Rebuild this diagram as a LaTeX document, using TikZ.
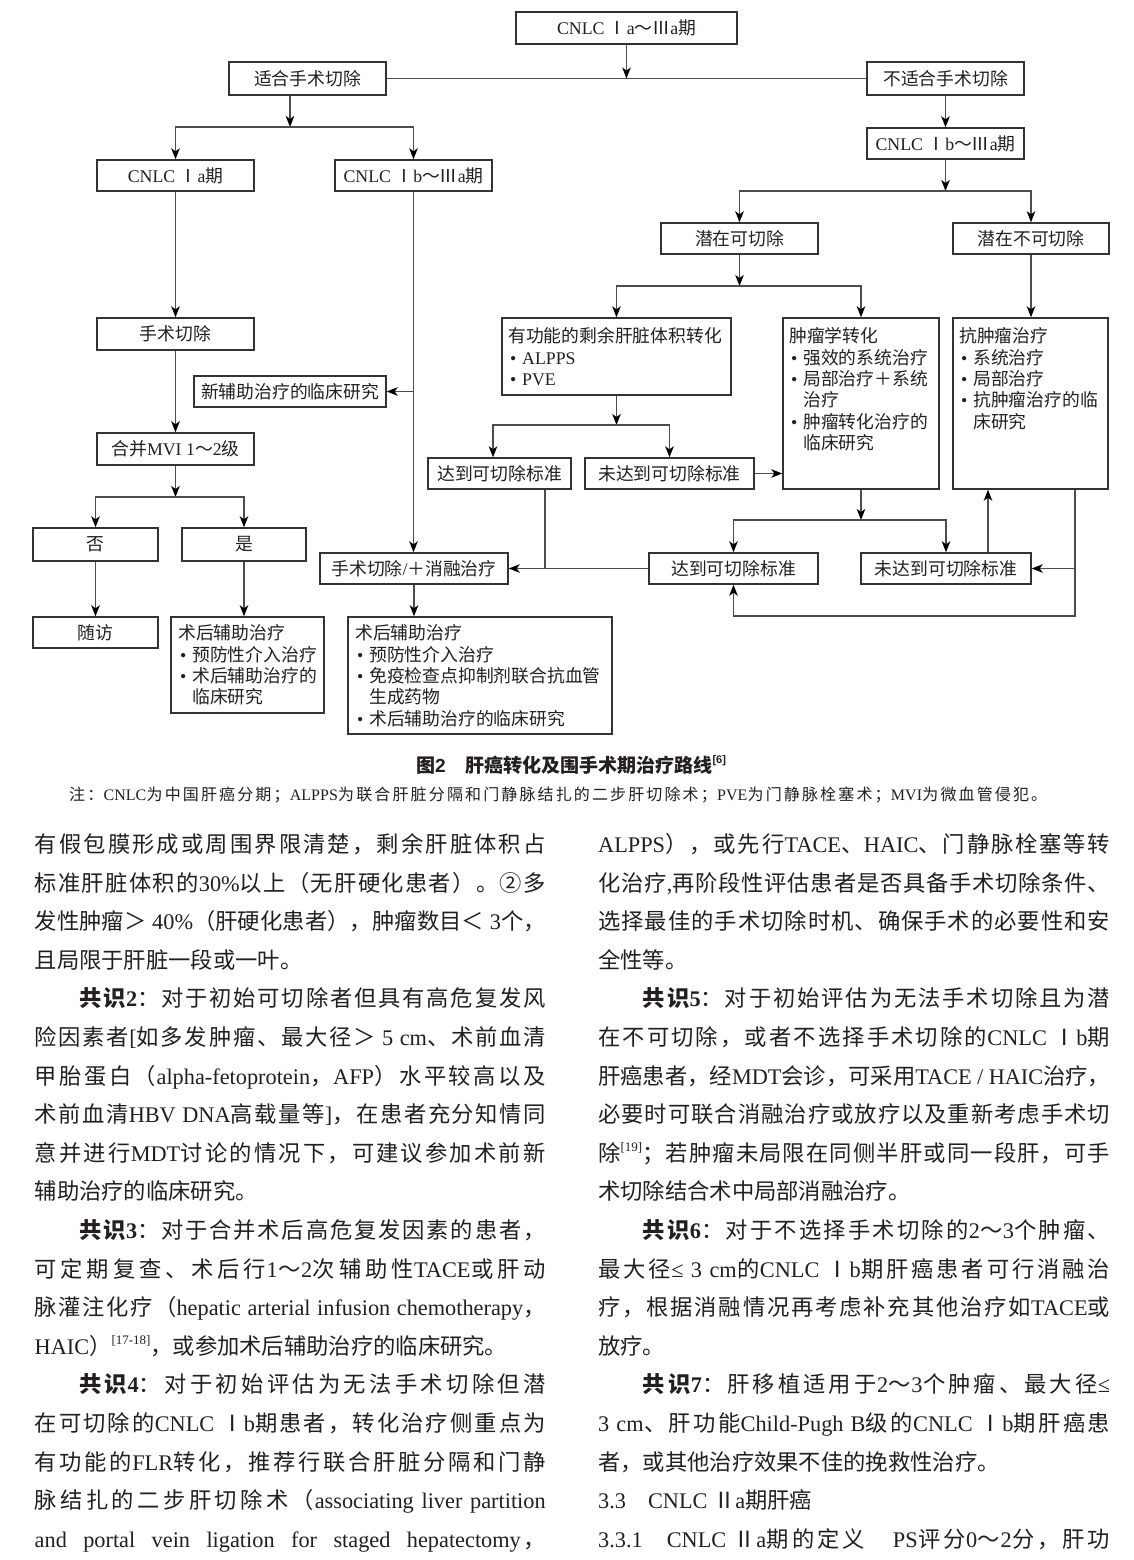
\documentclass[tikz,border=0pt]{standalone}
\usepackage{fontspec}
\setmainfont{Liberation Serif}
\setsansfont{Liberation Sans}
\newfontfamily\cjkfont{Noto Sans CJK SC}
\usetikzlibrary{arrows.meta}

% --- automatic switching between Latin and CJK fonts ---
\newcount\cjkn
\chardef\cjkcls=10
\def\cjkrange#1#2{\cjkn=#1\relax
  \loop\XeTeXcharclass\cjkn=\cjkcls\relax
  \ifnum\cjkn<#2\relax\advance\cjkn by 1\relax\repeat}
\cjkrange{"2160}{"217F}
\cjkrange{"2460}{"24FF}
\cjkrange{"2E80}{"9FFF}
\cjkrange{"FF00}{"FFEF}
\def\latfam{\rmdefault}
\def\latfont{\fontfamily{\latfam}\selectfont}
\def\cjkglue{\hskip 0pt plus 0.2em\relax}
\def\trglue{\hskip 0pt plus 0.03em\relax}
\XeTeXinterchartoks 0 \cjkcls = {\trglue\cjkfont}
\XeTeXinterchartoks 4095 \cjkcls = {\cjkfont}
\XeTeXinterchartoks \cjkcls 0 = {\latfont\trglue}
\XeTeXinterchartoks \cjkcls 4095 = {\latfont}
\XeTeXinterchartoks \cjkcls \cjkcls = {\cjkglue}
\XeTeXinterchartokenstate=1

\definecolor{boxc}{HTML}{333333}
\definecolor{linec}{HTML}{4D4D4D}
\definecolor{txt}{HTML}{231F20}

\newcommand\dfont{\fontsize{17.8}{21.3}\selectfont}
\newcommand\bfont{\fontsize{22.3}{38.6}\selectfont}
\newcommand\nfont{\fontsize{16}{20}\selectfont}
\newcommand\lns[1]{\vtop{\baselineskip=21.3pt\lineskiplimit=-20pt\lineskip=0pt #1}}
\newcommand\bul{\makebox[14pt][l]{\hspace{2pt}•}}
\newcommand\hang{\hspace*{14pt}}
\newdimen\colw
\newcommand\jl[1]{\hbox to\colw{#1}}
\newcommand\nl[1]{\hbox{#1}}
\newcommand\ind{\hspace*{44.6pt}}
\newcommand\supref[2][13]{\raisebox{0.45em}{\fontsize{#1}{#1}\selectfont #2}}
\newcommand\bodycol[1]{\vtop{\baselineskip=38.6pt\lineskiplimit=-30pt\lineskip=0pt #1}}

\begin{document}
\begin{tikzpicture}[x=1pt,y=-1pt,
  sz/.style 2 args={minimum width=#1pt,minimum height=#2pt},
  box/.style={draw=boxc,line width=1.4pt,inner sep=0pt,font=\dfont,text=txt},
  ln/.style={draw=linec,line width=1.5pt},
  arr/.style={ln,-{Stealth[length=11pt,width=8.5pt,inset=3pt,color=black]}},
  tl/.style={anchor=base west,inner sep=0pt,font=\dfont,text=txt},
  body/.style={anchor=base west,inner sep=0pt,font=\bfont,text=txt}]
\fill[white] (0,0) rectangle (1134,1560);
\path[use as bounding box] (0,0) rectangle (1134,1560);

% ---------------- boxes ----------------
\node[box,sz={221}{32}] (top) at (626.5,28) {CNLC Ⅰa～Ⅲa期};
\node[box,sz={157}{33}] (fit) at (307.5,78.5) {适合手术切除};
\node[box,sz={157}{33}] (nfit) at (945.5,78.5) {不适合手术切除};
\node[box,sz={157}{31}] (Ia) at (175.5,175.5) {CNLC Ⅰa期};
\node[box,sz={157}{31}] (Ib) at (413.5,175.5) {CNLC Ⅰb～Ⅲa期};
\node[box,sz={157}{31}] (Ib2) at (945.5,143.5) {CNLC Ⅰb～Ⅲa期};
\node[box,sz={157}{31}] (pr) at (739.5,238.5) {潜在可切除};
\node[box,sz={156}{31}] (pnr) at (1031,238.5) {潜在不可切除};
\node[box,sz={157}{32}] (surg1) at (175.5,334) {手术切除};
\node[box,sz={192}{31}] (neo) at (290,391.5) {新辅助治疗的临床研究};
\node[box,sz={157}{32}] (mvi) at (175.5,449) {合并MVI 1～2级};
\node[box,sz={125}{33}] (no) at (95.5,544.5) {否};
\node[box,sz={124}{33}] (yes) at (244,544.5) {是};
\node[box,sz={125}{31}] (fu) at (95.5,632.5) {随访};
\node[box,sz={153}{96}] (adj1) at (247.5,665) {};
\node[box,sz={229}{77}] (flr) at (616.5,356.5) {};
\node[box,sz={156}{171}] (onc) at (861,403.5) {};
\node[box,sz={155}{171}] (anti) at (1030.5,403.5) {};
\node[box,sz={143}{31}] (reach1) at (499.5,473.5) {达到可切除标准};
\node[box,sz={169}{31}] (notreach1) at (669.5,473.5) {未达到可切除标准};
\node[box,sz={188}{31}] (surg2) at (414,568.5) {手术切除/＋消融治疗};
\node[box,sz={169}{31}] (reach2) at (733.5,568.5) {达到可切除标准};
\node[box,sz={170}{31}] (notreach2) at (946,568.5) {未达到可切除标准};
\node[box,sz={264}{117}] (adj2) at (480,675.5) {};

% ---------------- multi-line box texts ----------------
\node[tl] (flrt) at (508,342.8) {\lns{\hbox{有功能的剩余肝脏体积转化}\hbox{\bul ALPPS}\hbox{\bul PVE}}};
\node[tl] (onct) at (789,342.8) {\lns{\hbox{肿瘤学转化}\hbox{\bul 强效的系统治疗}\hbox{\bul 局部治疗＋系统}\hbox{\hang 治疗}\hbox{\bul 肿瘤转化治疗的}\hbox{\hang 临床研究}}};
\node[tl] (antit) at (959,342.8) {\lns{\hbox{抗肿瘤治疗}\hbox{\bul 系统治疗}\hbox{\bul 局部治疗}\hbox{\bul 抗肿瘤治疗的临}\hbox{\hang 床研究}}};
\node[tl] (adj1t) at (178,639.8) {\lns{\hbox{术后辅助治疗}\hbox{\bul 预防性介入治疗}\hbox{\bul 术后辅助治疗的}\hbox{\hang 临床研究}}};
\node[tl] (adj2t) at (355,639.8) {\lns{\hbox{术后辅助治疗}\hbox{\bul 预防性介入治疗}\hbox{\bul 免疫检查点抑制剂联合抗血管}\hbox{\hang 生成药物}\hbox{\bul 术后辅助治疗的临床研究}}};

% ---------------- connectors ----------------
\draw[ln] (fit.east) -- (nfit.west);
\draw[arr] (top.south) -- (top.south |- fit.east);
\coordinate (j1) at (290,127);
\draw[arr] (j1 |- fit.south) -- (j1);
\draw[arr] (j1) -| (Ia.north);
\draw[arr] (j1) -| (Ib.north);
\draw[arr] (nfit.south) -- (Ib2.north);
\coordinate (j2) at (945.5,191);
\draw[arr] (Ib2.south) -- (j2);
\draw[arr] (j2) -| (pr.north);
\draw[arr] (j2) -| (pnr.north);
\draw[arr] (Ia.south) -- (surg1.north);
\draw[arr] (surg1.south) -- (mvi.north);
\coordinate (j3) at (175.5,497);
\draw[arr] (mvi.south) -- (j3);
\draw[arr] (j3) -| (no.north);
\draw[arr] (j3) -| (yes.north);
\draw[arr] (no.south) -- (fu.north);
\draw[arr] (yes.south) -- (yes.south |- adj1.north);
\draw[arr] (Ib.south) -- (Ib.south |- surg2.north);
\draw[arr] (Ib.south |- neo.east) -- (neo.east);
\draw[arr] (surg2.south) -- (surg2.south |- adj2.north);
\coordinate (j4) at (739.5,286);
\draw[arr] (pr.south) -- (j4);
\draw[arr] (j4) -| (flr.north);
\draw[arr] (j4) -| (onc.north);
\draw[arr] (pnr.south) -- (pnr.south |- anti.north);
\coordinate (j5) at (616.5,425);
\draw[arr] (flr.south) -- (j5);
\coordinate (r1x) at (493,425);
\draw[arr] (j5) -- (r1x) -- (r1x |- reach1.north);
\draw[arr] (j5) -| (notreach1.north);
\draw[arr] (notreach1.east) -- (notreach1.east -| onc.west);
\coordinate (r1d) at (545,568.5);
\draw[arr] (r1d |- reach1.south) -- (r1d) -- (surg2.east);
\draw[ln] (reach2.west) -- (r1d);
\coordinate (j6) at (861,520);
\draw[arr] (onc.south) -- (j6);
\draw[arr] (j6) -| (reach2.north);
\draw[arr] (j6) -| (notreach2.north);
\coordinate (ux) at (988,520);
\draw[arr] (ux |- notreach2.north) -- (ux |- anti.south);
\coordinate (rx) at (1075,616);
\draw[arr] (rx |- anti.south) -- (rx) -| (reach2.south);
\draw[arr] (rx |- notreach2.east) -- (notreach2.east);

% ---------------- caption and note ----------------
\node[anchor=base,inner sep=0pt,text=txt,font=\fontsize{19}{22}\selectfont] (cap) at (571,772)
  {\sffamily\bfseries\def\latfam{\sfdefault}图2\hspace{20pt}肝癌转化及围手术期治疗路线\supref[11]{[6]}};
\node[anchor=base west,inner sep=0pt,text=txt,font=\nfont] (note) at (69,800)
  {\hbox to 978pt{注：CNLC为中国肝癌分期；ALPPS为联合肝脏分隔和门静脉结扎的二步肝切除术；PVE为门静脉栓塞术；MVI为微血管侵犯。}};

% ---------------- body text ----------------
\node[body] (lcol) at (34.5,852.5) {\colw=511pt\bodycol{%
\jl{有假包膜形成或周围界限清楚，剩余肝脏体积占}
\jl{标准肝脏体积的30\%以上（无肝硬化患者）。②多}
\jl{发性肿瘤＞ 40\%（肝硬化患者），肿瘤数目＜ 3个，}
\nl{且局限于肝脏一段或一叶。}
\jl{\ind{\bfseries 共识2}：对于初始可切除者但具有高危复发风}
\jl{险因素者[如多发肿瘤、最大径＞ 5 cm、术前血清}
\jl{甲胎蛋白（alpha-fetoprotein，AFP）水平较高以及}
\jl{术前血清HBV DNA高载量等]，在患者充分知情同}
\jl{意并进行MDT讨论的情况下，可建议参加术前新}
\nl{辅助治疗的临床研究。}
\jl{\ind{\bfseries 共识3}：对于合并术后高危复发因素的患者，}
\jl{可定期复查、术后行1～2次辅助性TACE或肝动}
\jl{脉灌注化疗（hepatic arterial infusion chemotherapy，}
\nl{HAIC）\supref{[17-18]}，或参加术后辅助治疗的临床研究。}
\jl{\ind{\bfseries 共识4}：对于初始评估为无法手术切除但潜}
\jl{在可切除的CNLC Ⅰb期患者，转化治疗侧重点为}
\jl{有功能的FLR转化，推荐行联合肝脏分隔和门静}
\jl{脉结扎的二步肝切除术（associating liver partition}
\jl{and portal vein ligation for staged hepatectomy，}}};

\node[body] (rcol) at (598,852.5) {\colw=512pt\bodycol{%
\jl{ALPPS），或先行TACE、HAIC、门静脉栓塞等转}
\jl{化治疗,再阶段性评估患者是否具备手术切除条件、}
\jl{选择最佳的手术切除时机、确保手术的必要性和安}
\nl{全性等。}
\jl{\ind{\bfseries 共识5}：对于初始评估为无法手术切除且为潜}
\jl{在不可切除，或者不选择手术切除的CNLC Ⅰb期}
\jl{肝癌患者，经MDT会诊，可采用TACE / HAIC治疗，}
\jl{必要时可联合消融治疗或放疗以及重新考虑手术切}
\jl{除\supref{[19]}；若肿瘤未局限在同侧半肝或同一段肝，可手}
\nl{术切除结合术中局部消融治疗。}
\jl{\ind{\bfseries 共识6}：对于不选择手术切除的2～3个肿瘤、}
\jl{最大径≤ 3 cm的CNLC Ⅰb期肝癌患者可行消融治}
\jl{疗，根据消融情况再考虑补充其他治疗如TACE或}
\nl{放疗。}
\jl{\ind{\bfseries 共识7}：肝移植适用于2～3个肿瘤、最大径≤}
\jl{3 cm、肝功能Child-Pugh B级的CNLC Ⅰb期肝癌患}
\nl{者，或其他治疗效果不佳的挽救性治疗。}
\nl{3.3\hspace{22pt}CNLC Ⅱa期肝癌}
\jl{3.3.1\hspace{24pt}CNLC Ⅱa期的定义\hspace{28pt}PS评分0～2分，肝功}}};
\end{tikzpicture}
\end{document}
